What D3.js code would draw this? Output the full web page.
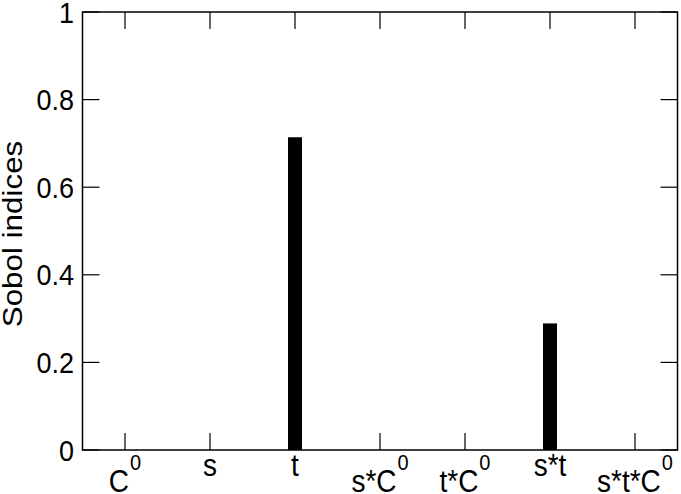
<!DOCTYPE html>
<html><head><meta charset="utf-8">
<script src="https://cdn.jsdelivr.net/npm/d3@7"></script>
<style>
body{margin:0;background:#fff;}
text{font-family:"Liberation Sans",Arial,Helvetica,sans-serif;fill:#000;}
</style></head>
<body><svg id="c" width="681" height="494"></svg>
<script>
const categories = ["C", "s", "t", "s*C", "t*C", "s*t", "s*t*C"];
const superscripts = ["0", "", "", "0", "0", "", "0"];
const values = [0, 0, 0.714, 0, 0, 0.289, 0];
const yTicks = [0, 0.2, 0.4, 0.6, 0.8, 1];
const yTickLabels = ["0", "0.2", "0.4", "0.6", "0.8", "1"];
const yTitle = "Sobol indices";

const svg = d3.select("#c");
const L = 82.5, R = 677.5, T = 12, B = 450;
const x = d3.scaleLinear().domain([-0.5, categories.length - 0.5]).range([L, R]);
const y = d3.scaleLinear().domain([0, 1]).range([B, T]);
const tickLen = 17, barW = 14, sy = 1.1;

// bars
svg.append("g").selectAll("rect").data(values).join("rect")
  .attr("x", (d, i) => x(i) - barW / 2)
  .attr("y", d => y(d))
  .attr("width", barW)
  .attr("height", d => B - y(d))
  .attr("fill", "#000");

// frame
svg.append("rect").attr("x", L).attr("y", T).attr("width", R - L).attr("height", B - T)
  .attr("fill", "none").attr("stroke", "#000").attr("stroke-width", 1.5);

const idx = d3.range(categories.length);
const tk = svg.append("g").attr("stroke", "#000").attr("stroke-width", 1.2);
idx.forEach(i => {
  tk.append("line").attr("x1", x(i)).attr("x2", x(i)).attr("y1", B).attr("y2", B - tickLen);
  tk.append("line").attr("x1", x(i)).attr("x2", x(i)).attr("y1", T).attr("y2", T + tickLen);
});
yTicks.forEach(v => {
  tk.append("line").attr("x1", L).attr("x2", L + tickLen).attr("y1", y(v)).attr("y2", y(v));
  tk.append("line").attr("x1", R).attr("x2", R - tickLen).attr("y1", y(v)).attr("y2", y(v));
});

// y tick labels
yTicks.forEach((v, i) => {
  svg.append("text")
    .attr("transform", `translate(74,${y(v)}) scale(1,${sy})`)
    .attr("text-anchor", "end").attr("dy", "0.36em")
    .attr("font-size", 27).text(yTickLabels[i]);
});

// x tick labels
idx.forEach(i => {
  const hasSup = superscripts[i] !== "";
  const base = hasSup ? 491.5 : 476;
  const t = svg.append("text")
    .attr("transform", `translate(${x(i)},${base}) scale(1,${sy})`)
    .attr("text-anchor", "middle").attr("font-size", 28);
  t.append("tspan").text(categories[i]);
  if (hasSup) t.append("tspan").attr("font-size", 20).attr("dx", 1).attr("dy", -19.5).text(superscripts[i]);
});

// y title
svg.append("text")
  .attr("transform", `translate(22,234) scale(1,1.12) rotate(-90)`)
  .attr("text-anchor", "middle").attr("font-size", 28).text(yTitle);
</script></body></html>
